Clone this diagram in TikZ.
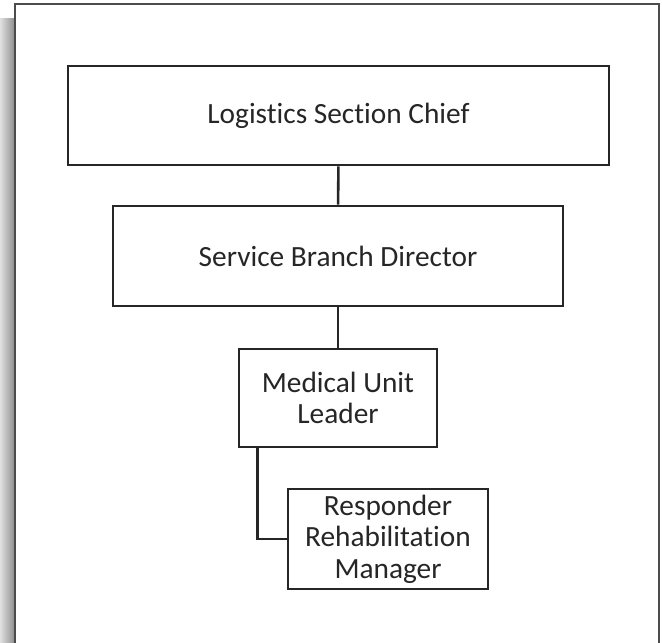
\documentclass[tikz,border=0pt]{standalone}
\usepackage{fontspec}
\setmainfont[Ligatures=NoCommon]{Carlito}
\usepackage{tikz}

\begin{document}
\begin{tikzpicture}[x=0.75pt,y=-0.75pt,thick]
\tikzset{
  orgbox/.style={draw=black!85,line width=1.9pt,fill=white,inner sep=0pt,align=center,
    text=black!85,font=\fontsize{22}{23.5}\selectfont},
  link/.style={draw=black!85,line width=1.9pt}
}
\useasboundingbox (0,0) rectangle (662,643);
% page with shadow on the left
\shade[left color=black!12,right color=black!45] (0,18) rectangle (15,660);
\fill[white] (15,4) rectangle (659,660);
\draw[black!70,line width=0.9pt] (15,660) -- (15,4) -- (659,4) -- (659,660);
% boxes
\node[orgbox,minimum width=405.75pt,minimum height=74.25pt] (lsc) at (338.5,115.5) {Logistics Section Chief};
\node[orgbox,minimum width=337.5pt,minimum height=75pt] (sbd) at (338,256) {Service Branch Director};
\node[orgbox,minimum width=148.5pt,minimum height=73.5pt] (mul) at (338,398) {Medical Unit\\Leader};
\node[orgbox,minimum width=150pt,minimum height=75pt] (rrm) at (388,539) {Responder\\Rehabilitation\\Manager};
% connectors
\draw[link] (lsc) -- (sbd);
\draw[link] (sbd) -- (mul);
\draw[link] ([xshift=15pt]mul.south west) |- (rrm.west);
\end{tikzpicture}
\end{document}
